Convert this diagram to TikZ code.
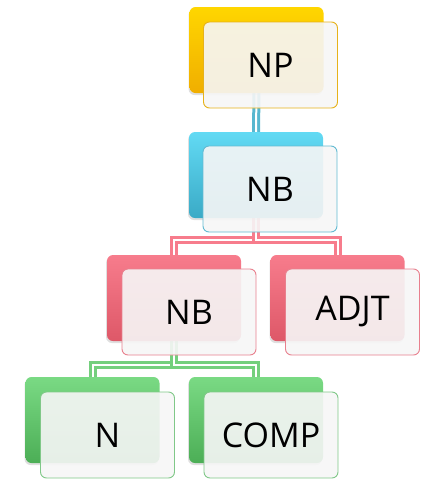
\documentclass[tikz,border=0pt]{standalone}
\usepackage{fontspec}
\setmainfont{Open Sans}
\usetikzlibrary{shadows,calc}

% colour sets: top, bottom (back card) and rim (front card)
\definecolor{ylTop}{HTML}{FFD600}\definecolor{ylBot}{HTML}{F0AE00}\definecolor{ylRim}{HTML}{E6B21A}
\definecolor{cyTop}{HTML}{62DAF4}\definecolor{cyBot}{HTML}{3AAAC6}\definecolor{cyRim}{HTML}{62BAD2}
\definecolor{pkTop}{HTML}{F77C8C}\definecolor{pkBot}{HTML}{DE5868}\definecolor{pkRim}{HTML}{E8808E}
\definecolor{gnTop}{HTML}{7ADA84}\definecolor{gnBot}{HTML}{4CAE56}\definecolor{gnRim}{HTML}{80C888}
\definecolor{paper}{HTML}{F6F6F6}

\tikzset{
  card/.style={minimum width=134pt, minimum height=86pt, rounded corners=6pt, inner sep=0pt},
  backcard/.style 2 args={card, top color=#1, bottom color=#2, draw=none,
    drop shadow={shadow xshift=-1pt, shadow yshift=-2pt, opacity=0.25}},
  frontcard/.style={card, draw=#1, line width=0.9pt, fill=paper, fill opacity=0.91,
    text opacity=1, font=\fontsize{34}{38}\selectfont},
  conn/.style={draw=#1, line width=3pt, double=white, double distance=2pt}
}

\begin{document}
\begin{tikzpicture}[x=1pt, y=-1pt]
  \useasboundingbox (0,0) rectangle (421,480);

  % anchor points of the back cards
  \coordinate (pNP) at (256.5,50);
  \coordinate (pNB) at (256,175);
  \coordinate (pNBb) at (174,298);
  \coordinate (pADJ) at (337.5,298);
  \coordinate (pN) at (92.5,420);
  \coordinate (pCOMP) at (256,420);

  % connectors (under the cards)
  \path (pNP) ++(0,43) coordinate (cNPs);
  \path (pNB) ++(0,-43) coordinate (cNBn);
  \path (pNB) ++(0,43) coordinate (cNBs);
  \path (pNBb) ++(0,-43) coordinate (cNBbn);
  \path (pNBb) ++(0,43) coordinate (cNBbs);
  \path (pADJ) ++(0,-43) coordinate (cADJn);
  \path (pN) ++(0,-43) coordinate (cNn);
  \path (pCOMP) ++(0,-43) coordinate (cCOMPn);

  \draw[conn=cyBot!85] (cNPs) -- (cNBn);
  \draw[conn=pkTop] (cNBs) -- ++(0,22) -| (cNBbn);
  \draw[conn=pkTop] (cNBs) -- ++(0,22) -| (cADJn);
  \draw[conn=gnTop!95!black] (cNBbs) -- ++(0,24) -| (cNn);
  \draw[conn=gnTop!95!black] (cNBbs) -- ++(0,24) -| (cCOMPn);

  % back cards
  \node[backcard={ylTop}{ylBot}] (bNP) at (pNP) {};
  \node[backcard={cyTop}{cyBot}] (bNB) at (pNB) {};
  \node[backcard={pkTop}{pkBot}] (bNBb) at (pNBb) {};
  \node[backcard={pkTop}{pkBot}] (bADJ) at (pADJ) {};
  \node[backcard={gnTop}{gnBot}] (bN) at (pN) {};
  \node[backcard={gnTop}{gnBot}] (bCOMP) at (pCOMP) {};

  % front cards with labels
  \node[frontcard=ylRim] (fNP) at ($(pNP)+(14,15)$) {NP};
  \node[frontcard=cyRim] (fNB) at ($(pNB)+(14,14)$) {NB};
  \node[frontcard=pkRim] (fNBb) at ($(pNBb)+(15,14)$) {NB};
  \node[frontcard=pkRim] (fADJ) at ($(pADJ)+(15,14)$) {ADJT};
  \node[frontcard=gnRim] (fN) at ($(pN)+(15,15)$) {N};
  \node[frontcard=gnRim] (fCOMP) at ($(pCOMP)+(15,15)$) {COMP};
\end{tikzpicture}
\end{document}
